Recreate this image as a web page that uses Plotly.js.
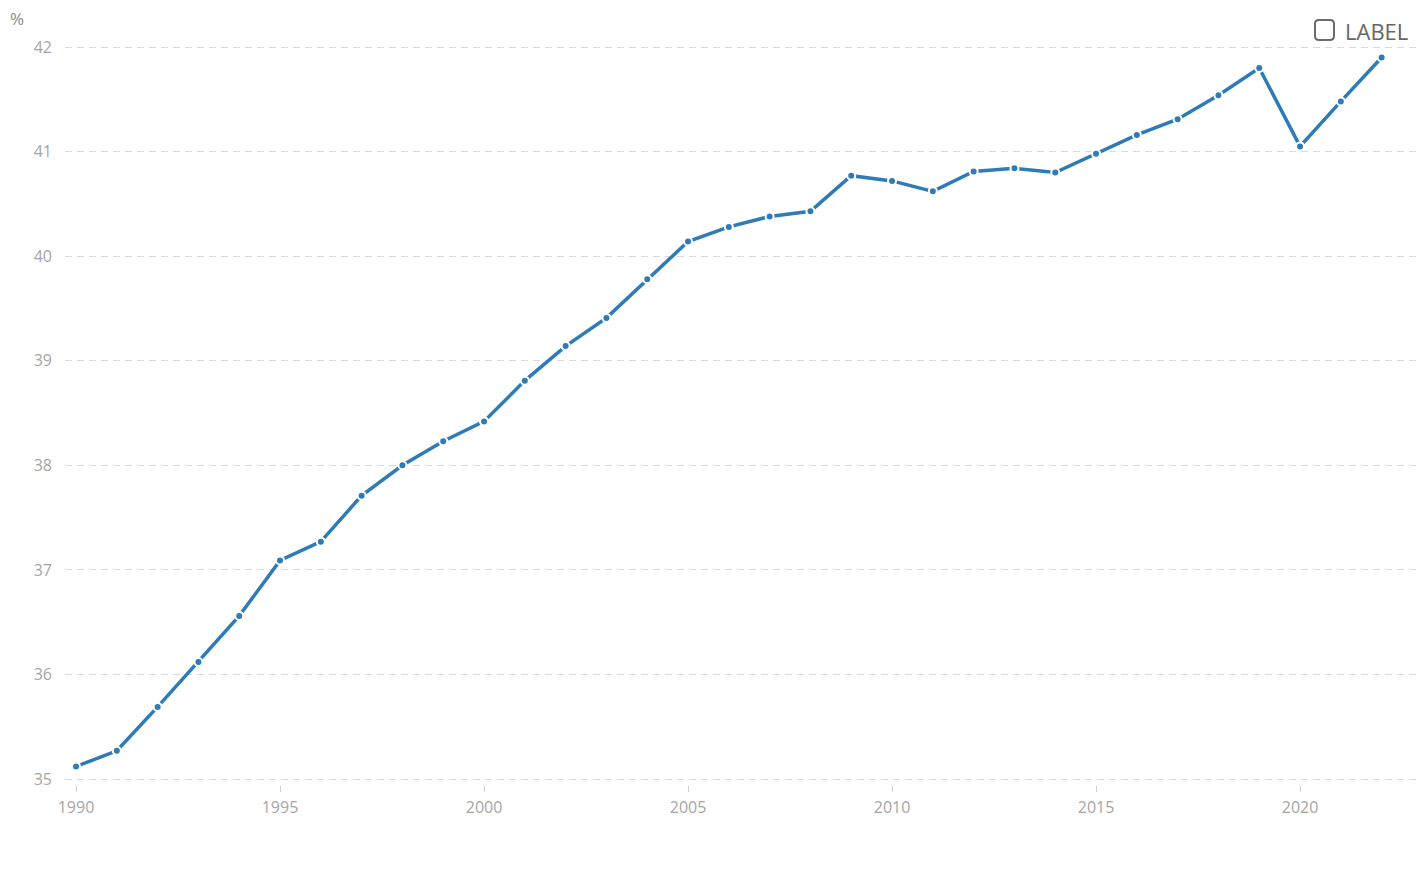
<!DOCTYPE html>
<html>
<head>
<meta charset="utf-8">
<script src="https://cdn.plot.ly/plotly-3.0.1.min.js"></script>
<style>html,body{margin:0;padding:0;background:#fff;}#chart{width:1427px;height:879px;}</style>
</head>
<body>
<div id="chart"></div>
<script>
const years = [1990,1991,1992,1993,1994,1995,1996,1997,1998,1999,2000,2001,2002,2003,2004,2005,2006,2007,2008,2009,2010,2011,2012,2013,2014,2015,2016,2017,2018,2019,2020,2021,2022];
const values = [35.12,35.27,35.69,36.12,36.56,37.09,37.27,37.71,38.00,38.23,38.42,38.81,39.14,39.41,39.78,40.14,40.28,40.38,40.43,40.77,40.72,40.62,40.81,40.84,40.80,40.98,41.16,41.31,41.54,41.80,41.05,41.48,41.90];
const seriesName = "LABEL";
const yUnit = "%";
const xTicks = [1990,1995,2000,2005,2010,2015,2020];
const yTicks = [35,36,37,38,39,40,41,42];

const font = "'Open Sans', 'Noto Sans', sans-serif";
const trace = {
  x: years, y: values, type: 'scatter', mode: 'lines+markers', name: seriesName,
  line: {color: '#2e7bb6', width: 3.5},
  marker: {color: '#2e7bb6', size: 8, line: {color: '#ffffff', width: 2}},
  showlegend: false
};
const layout = {
  width: 1427, height: 879,
  margin: {l: 65, r: 7, t: 30, b: 94},
  paper_bgcolor: '#fff', plot_bgcolor: '#fff',
  font: {family: font, color: '#a6a6a6', size: 16},
  xaxis: {
    range: [1989.73, 2022.94], tickvals: xTicks, ticktext: xTicks.map(String),
    showgrid: false, zeroline: false, showline: false,
    ticks: 'outside', ticklen: 6, tickcolor: '#d0d0d0', tickwidth: 1, ticklabelstandoff: 2,
    tickfont: {family: font, size: 16, color: '#a6a6a6'}
  },
  yaxis: {
    range: [34.943, 42.163], tickvals: yTicks, ticktext: yTicks.map(String),
    showgrid: true, gridcolor: '#dadada', gridwidth: 1, griddash: '7px,5px',
    zeroline: false, showline: false, ticks: '', ticklabelstandoff: 12,
    tickfont: {family: font, size: 16, color: '#a6a6a6'}
  },
  annotations: [
    {text: yUnit, xref: 'paper', yref: 'paper', x: 0, y: 1, xshift: -48, yshift: 12, showarrow: false,
     xanchor: 'center', yanchor: 'middle', font: {family: font, size: 17, color: '#8a8a8a'}},
    {text: seriesName, xref: 'paper', yref: 'paper', x: 1, y: 1, xshift: -10, yshift: -1, showarrow: false,
     xanchor: 'right', yanchor: 'middle', font: {family: font, size: 22, color: '#666666'}}
  ],
  shapes: [
    {type: 'path', xref: 'paper', yref: 'paper', xsizemode: 'pixel', ysizemode: 'pixel',
     xanchor: 1, yanchor: 1,
     path: 'M -101,10 L -90,10 Q -86,10 -86,6 L -86,-6 Q -86,-10 -90,-10 L -101,-10 Q -105,-10 -105,-6 L -105,6 Q -105,10 -101,10 Z',
     line: {color: '#6a6a6a', width: 2}, fillcolor: 'rgba(0,0,0,0)'}
  ]
};
Plotly.newPlot('chart', [trace], layout, {displayModeBar: false, staticPlot: true});
</script>
</body>
</html>
